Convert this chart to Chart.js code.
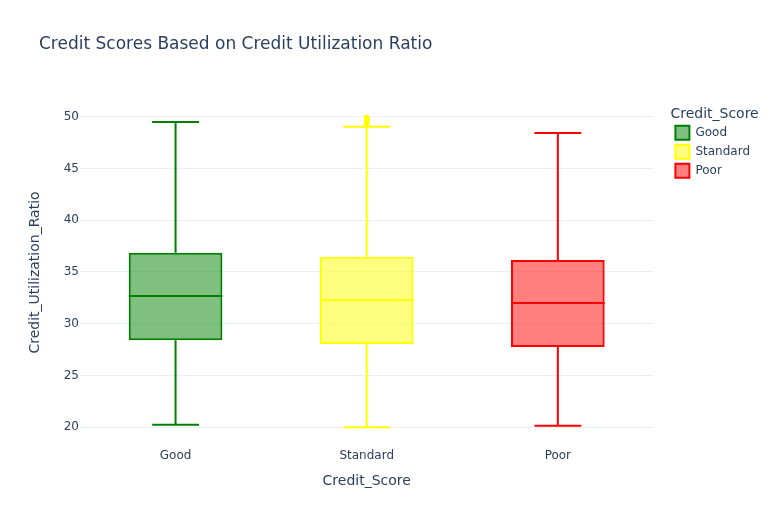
<!DOCTYPE html>
<html lang="en">
<head>
  <meta charset="UTF-8" />
  <title>Credit Scores Based on Credit Utilization Ratio</title>
  <script src="https://cdn.jsdelivr.net/npm/chart.js@4.4.8/dist/chart.umd.min.js"></script>
  <style>
    body { margin: 0; background: #fff; }
    #wrap { width: 777px; height: 525px; }
  </style>
</head>
<body>
  <div id="wrap"><canvas id="boxChart" width="777" height="525"></canvas></div>

  <script>
    // box statistics
    const categories = ['Good', 'Standard', 'Poor'];
    const mins = [20.25, 20.0, 20.15];
    const q1s = [28.4, 28.05, 27.75];
    const medians = [32.68, 32.27, 32.0];
    const q3s = [36.85, 36.47, 36.16];
    const maxs = [49.48, 49.03, 48.43];
    const standardOutliers = [49.3, 49.5, 49.7, 49.9];
    const yTicks = [20, 25, 30, 35, 40, 45, 50];

    const lineColors = ['#008000', '#ffff00', '#ff0000'];
    const fillColors = ['rgba(0,128,0,0.5)', 'rgba(255,255,0,0.5)', 'rgba(255,0,0,0.5)'];
    const textColor = '#2a3f5f';
    const fontFamily = '"DejaVu Sans", Verdana, sans-serif';

    // whiskers, caps and median lines for each box
    const whiskerPlugin = {
      id: 'whiskers',
      afterDatasetsDraw(chart) {
        const { ctx, scales: { y } } = chart;
        categories.forEach((c, i) => {
          const bar = chart.getDatasetMeta(i).data[i];
          const cx = bar.x, half = bar.width / 2, cap = half / 2;
          const py = v => y.getPixelForValue(v);
          ctx.save();
          ctx.strokeStyle = lineColors[i];
          ctx.lineWidth = 2;
          ctx.beginPath();
          ctx.moveTo(cx, py(q3s[i])); ctx.lineTo(cx, py(maxs[i]));
          ctx.moveTo(cx - cap, py(maxs[i])); ctx.lineTo(cx + cap, py(maxs[i]));
          ctx.moveTo(cx, py(q1s[i])); ctx.lineTo(cx, py(mins[i]));
          ctx.moveTo(cx - cap, py(mins[i])); ctx.lineTo(cx + cap, py(mins[i]));
          ctx.moveTo(cx - half, py(medians[i])); ctx.lineTo(cx + half, py(medians[i]));
          ctx.stroke();
          ctx.restore();
        });
      }
    };

    // title top-left like plotly, and a small gap before the legend
    const layoutPlugin = {
      id: 'layoutTweaks',
      afterLayout(chart) {
        const lg = chart.legend;
        lg.left += 17;
        lg.width += 40;
        lg.right = lg.left + lg.width;
      },
      afterDraw(chart) {
        const ctx = chart.ctx;
        ctx.save();
        ctx.font = '17px ' + fontFamily;
        ctx.fillStyle = textColor;
        ctx.textBaseline = 'middle';
        ctx.fillText('Credit Scores Based on Credit Utilization Ratio', 39, 45);
        ctx.restore();
      }
    };

    const datasets = categories.map((c, i) => ({
      label: c,
      data: categories.map((_, j) => (j === i ? [q1s[i], q3s[i]] : null)),
      backgroundColor: fillColors[i],
      borderColor: lineColors[i],
      borderWidth: 2,
      borderSkipped: false,
      skipNull: true,
      categoryPercentage: 1,
      barPercentage: 0.49
    }));
    datasets.push({
      type: 'line',
      label: 'outliers',
      data: standardOutliers.map(v => ({ x: 'Standard', y: v })),
      showLine: false,
      pointRadius: 3,
      pointBackgroundColor: lineColors[1],
      pointBorderWidth: 0
    });

    new Chart(document.getElementById('boxChart'), {
      type: 'bar',
      data: { labels: categories, datasets },
      plugins: [whiskerPlugin, layoutPlugin],
      options: {
        responsive: false,
        animation: false,
        layout: { padding: { top: 100, right: 34, bottom: 0, left: 0 } },
        plugins: {
          tooltip: { enabled: false },
          legend: {
            position: 'right',
            align: 'start',
            title: {
              display: true,
              text: 'Credit_Score',
              position: 'start',
              color: textColor,
              font: { family: fontFamily, size: 14 },
              padding: { top: 7, bottom: -3 }
            },
            labels: {
              boxWidth: 14,
              boxHeight: 14,
              padding: 5,
              color: textColor,
              font: { family: fontFamily, size: 12 },
              filter: item => item.text !== 'outliers'
            }
          }
        },
        scales: {
          x: {
            grid: { display: false },
            border: { display: false },
            ticks: { color: textColor, font: { family: fontFamily, size: 12 }, padding: -4 },
            title: {
              display: true,
              text: 'Credit_Score',
              color: textColor,
              font: { family: fontFamily, size: 14 },
              padding: { bottom: 35 }
            },
            afterFit: s => { s.height = 80; }
          },
          y: {
            min: 18.29,
            max: 51.61,
            grid: { color: '#ebf0f8', lineWidth: 1, drawTicks: false },
            border: { display: false },
            afterBuildTicks: s => { s.ticks = yTicks.map(v => ({ value: v })); },
            ticks: { color: textColor, font: { family: fontFamily, size: 12 }, padding: 1 },
            title: {
              display: true,
              text: 'Credit_Utilization_Ratio',
              color: textColor,
              font: { family: fontFamily, size: 14 },
              padding: { top: 27 }
            },
            afterFit: s => { s.width = 80; }
          }
        }
      }
    });
  </script>
</body>
</html>
